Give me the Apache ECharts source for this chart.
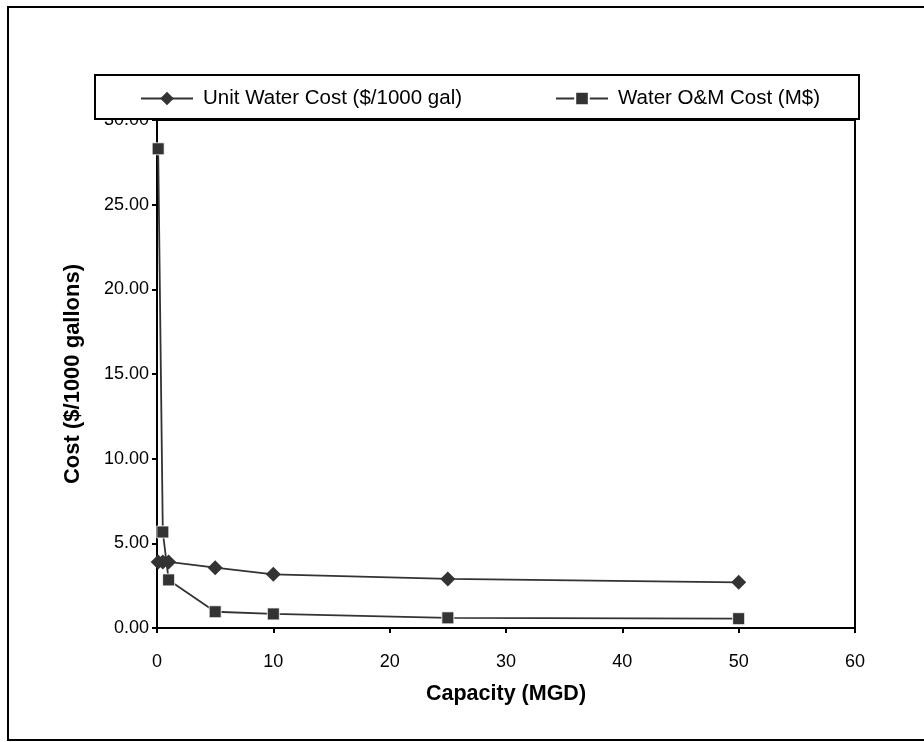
<!DOCTYPE html>
<html>
<head>
<meta charset="utf-8">
<script src="https://cdn.jsdelivr.net/npm/echarts@6/dist/echarts.min.js"></script>
<style>html,body{margin:0;padding:0;background:#fff;}#c{width:924px;height:742px;}</style>
</head>
<body>
<div id="c"></div>
<script>
var capacity = [0.1, 0.5, 1, 5, 10, 25, 50];
var unitCost = [3.9, 3.9, 3.9, 3.56, 3.17, 2.9, 2.7];
var omCost = [28.3, 5.67, 2.84, 0.96, 0.83, 0.6, 0.55];
var seriesNames = ['Unit Water Cost ($/1000 gal)', 'Water O&M Cost (M$)'];
var xTitle = 'Capacity (MGD)';
var yTitle = 'Cost ($/1000 gallons)';

function pairs(xs, ys) { return xs.map(function (x, i) { return [x, ys[i]]; }); }

var FONT = '"Liberation Sans", Arial, sans-serif';
var chart = echarts.init(document.getElementById('c'), null, { renderer: 'canvas' });
chart.setOption({
  animation: false,
  backgroundColor: '#fff',
  textStyle: { fontFamily: FONT },
  graphic: [
    { type: 'rect', z: 0, shape: { x: 8, y: 7, width: 940, height: 733 },
      style: { fill: 'none', stroke: '#000', lineWidth: 2 } },
    { type: 'rect', z: 15, shape: { x: 95, y: 75, width: 764, height: 44 },
      style: { fill: '#fff', stroke: '#000', lineWidth: 2 } }
  ],
  grid: { left: 157, right: 69, top: 120, bottom: 114, show: true, borderColor: '#000', borderWidth: 2, backgroundColor: 'transparent' },
  legend: {
    z: 20, left: 140, top: 88, padding: 0, itemWidth: 52, itemHeight: 17, itemGap: 93,
    textStyle: { fontSize: 20.5, color: '#000', fontFamily: FONT, padding: [0, 0, 0, 5] },
    data: seriesNames
  },
  xAxis: {
    type: 'value', min: 0, max: 60, interval: 10,
    name: xTitle, nameLocation: 'middle', nameGap: 55,
    nameTextStyle: { fontSize: 21.5, fontWeight: 'bold', color: '#000', fontFamily: FONT },
    axisLine: { show: true, lineStyle: { color: '#000', width: 2 } },
    axisTick: { show: true, length: 5, lineStyle: { color: '#000', width: 2 } },
    axisLabel: { fontSize: 18, color: '#000', margin: 25, fontFamily: FONT },
    splitLine: { show: false }
  },
  yAxis: {
    type: 'value', min: 0, max: 30, interval: 5,
    name: yTitle, nameLocation: 'middle', nameGap: 73, nameRotate: 90,
    nameTextStyle: { fontSize: 22, fontWeight: 'bold', color: '#000', fontFamily: FONT },
    axisLine: { show: true, lineStyle: { color: '#000', width: 2 } },
    axisTick: { show: true, length: 5, lineStyle: { color: '#000', width: 2 } },
    axisLabel: { fontSize: 18, color: '#000', margin: 8, fontFamily: FONT,
      formatter: function (v) { return v.toFixed(2); } },
    splitLine: { show: false }
  },
  series: [
    { name: seriesNames[0], type: 'line', data: pairs(capacity, unitCost),
      symbol: 'diamond', symbolSize: 15, showAllSymbol: true,
      lineStyle: { color: '#333', width: 1.8 },
      itemStyle: { color: '#333', borderColor: '#333', borderWidth: 0 } },
    { name: seriesNames[1], type: 'line', data: pairs(capacity, omCost),
      symbol: 'rect', symbolSize: 12, showAllSymbol: true,
      lineStyle: { color: '#333', width: 1.8 },
      itemStyle: { color: '#333', borderColor: '#fff', borderWidth: 0.8 } }
  ]
});
</script>
</body>
</html>
